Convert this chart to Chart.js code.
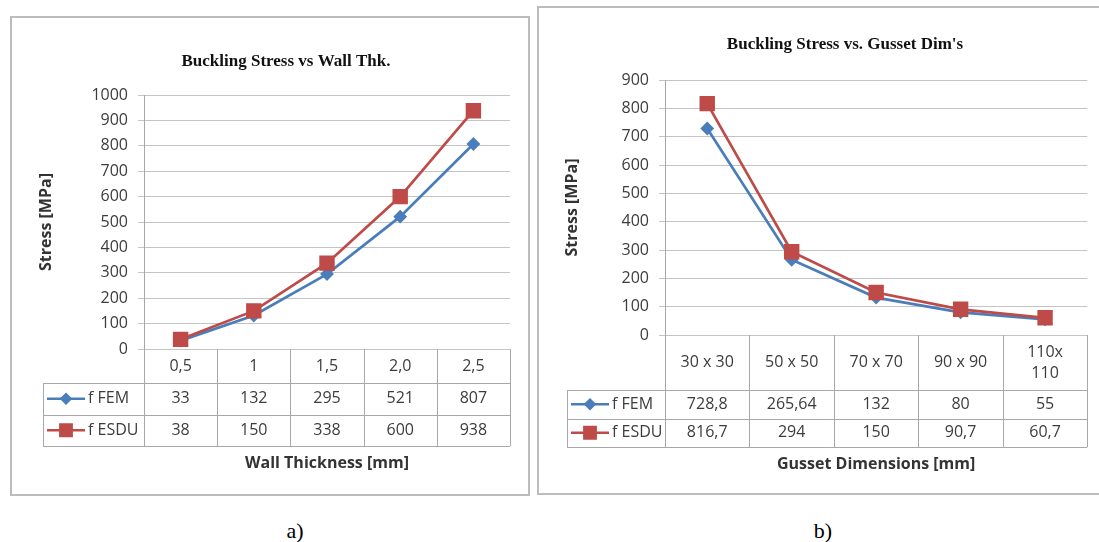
<!DOCTYPE html>
<html>
<head>
<meta charset="utf-8">
<script src="https://cdn.jsdelivr.net/npm/chart.js@4.4.1/dist/chart.umd.min.js"></script>
<style>
  body { margin: 0; background: #fff; width: 1099px; height: 542px; overflow: hidden; position: relative; }
  .box { position: absolute; border: 2px solid #bcbcbc; box-sizing: border-box; }
  canvas { position: absolute; }
  .cap { position: absolute; font: 22px "Liberation Serif", serif; color: #000; transform: translate(-50%, -50%); }
</style>
</head>
<body>
<div class="box" style="left:10px;top:16px;width:520px;height:480px"></div>
<div class="box" style="left:537px;top:6px;width:570px;height:489px"></div>
<canvas id="chartA" width="517" height="477" style="left:11px;top:17px"></canvas>
<canvas id="chartB" width="561" height="486" style="left:538px;top:7px"></canvas>
<div class="cap" style="left:295px;top:531px">a)</div>
<div class="cap" style="left:823px;top:531px">b)</div>
<script>
// a) wall thickness
const wallLabels = ["0,5", "1", "1,5", "2,0", "2,5"];
const wallFEM = [33, 132, 295, 521, 807];
const wallESDU = [38, 150, 338, 600, 938];
const wallTicks = { min: 0, max: 1000, step: 100 };

// b) gusset dimensions
const gussetLabels = ["30 x 30", "50 x 50", "70 x 70", "90 x 90", ["110x", "110"]];
const gussetFEM = [728.8, 265.64, 132, 80, 55];
const gussetESDU = [816.7, 294, 150, 90.7, 60.7];
const gussetTicks = { min: 0, max: 900, step: 100 };

const seriesNames = ["f FEM", "f ESDU"];

const BLUE = "#4a7ebb";
const RED = "#be4b48";
const TEXT = "#3c3c3c";
const LINE = "#a8a8a8";
const SANS = "'Open Sans', 'Noto Sans', sans-serif";

const fmt = (v) => String(v).replace(".", ",");

// draws the Excel-style data table under the plot, plus title and x title
const tablePlugin = {
  id: "dataTable",
  afterDraw(chart, args, opts) {
    const { ctx, chartArea: area, scales: { x } } = chart;
    const n = chart.data.labels.length;
    const colW = (area.right - area.left) / n;
    const top = area.bottom;
    const hdrBottom = top + opts.headerH;
    const sets = chart.data.datasets;
    const bottom = hdrBottom + opts.rowH * sets.length;
    const crisp = (v) => Math.round(v) + 0.5;

    ctx.save();
    ctx.strokeStyle = LINE;
    ctx.lineWidth = 1;
    ctx.beginPath();
    // vertical column lines
    for (let k = 0; k <= n; k++) {
      const xx = crisp(area.left + k * colW);
      ctx.moveTo(xx, top);
      ctx.lineTo(xx, bottom);
    }
    // legend column left edge
    ctx.moveTo(crisp(opts.tableLeft), hdrBottom);
    ctx.lineTo(crisp(opts.tableLeft), bottom);
    // horizontal row lines
    for (let r = 0; r <= sets.length; r++) {
      const yy = crisp(hdrBottom + r * opts.rowH);
      ctx.moveTo(opts.tableLeft, yy);
      ctx.lineTo(area.right, yy);
    }
    ctx.stroke();

    ctx.fillStyle = TEXT;
    ctx.font = "16px " + SANS;
    ctx.textAlign = "center";
    ctx.textBaseline = "middle";
    // header with category labels
    chart.data.labels.forEach((lab, i) => {
      const cx = x.getPixelForValue(i);
      const lines = Array.isArray(lab) ? lab : [lab];
      const mid = top + opts.headerH / 2;
      lines.forEach((t, j) => {
        ctx.fillText(t, cx, mid + (j - (lines.length - 1) / 2) * 21);
      });
    });
    // value rows with legend keys
    sets.forEach((ds, r) => {
      const cy = hdrBottom + r * opts.rowH + opts.rowH / 2;
      ds.data.forEach((v, i) => {
        ctx.fillStyle = TEXT;
        ctx.textAlign = "center";
        ctx.fillText(fmt(v), x.getPixelForValue(i), cy);
      });
      const lx = opts.tableLeft;
      ctx.strokeStyle = ds.borderColor;
      ctx.fillStyle = ds.borderColor;
      ctx.lineWidth = 2.5;
      ctx.beginPath();
      ctx.moveTo(lx + 4, cy);
      ctx.lineTo(lx + 42, cy);
      ctx.stroke();
      Chart.helpers.drawPoint(ctx, {
        pointStyle: ds.pointStyle,
        radius: ds.legendRadius,
        rotation: 0,
        borderWidth: 1
      }, lx + 23, cy);
      ctx.fillStyle = TEXT;
      ctx.textAlign = "left";
      ctx.fillText(ds.label, lx + 45, cy);
    });

    // chart title
    ctx.fillStyle = "#111";
    ctx.textAlign = "center";
    ctx.font = "bold 17px 'Liberation Serif', serif";
    ctx.fillText(opts.title, opts.titleX, opts.titleY);
    // x axis title
    ctx.font = "bold 16px " + SANS;
    ctx.fillStyle = "#333";
    ctx.fillText(opts.xTitle, (area.left + area.right) / 2, bottom + 17);
    ctx.restore();
  }
};

function makeChart(id, labels, fem, esdu, ticks, t) {
  return new Chart(document.getElementById(id), {
    type: "line",
    data: {
      labels: labels,
      datasets: [
        {
          label: seriesNames[0],
          data: fem,
          borderColor: BLUE,
          backgroundColor: BLUE,
          borderWidth: 2.7,
          pointStyle: "rectRot",
          pointRadius: 5,
          legendRadius: 4.5,
          order: 1
        },
        {
          label: seriesNames[1],
          data: esdu,
          borderColor: RED,
          backgroundColor: RED,
          borderWidth: 2.7,
          pointStyle: "rect",
          pointRadius: 9,
          legendRadius: 8,
          order: 0
        }
      ]
    },
    options: {
      responsive: false,
      animation: false,
      devicePixelRatio: 1,
      layout: { padding: t.padding },
      plugins: {
        legend: { display: false },
        tooltip: { enabled: false },
        title: { display: false },
        dataTable: t
      },
      elements: { line: { tension: 0 }, point: { borderWidth: 1 } },
      scales: {
        x: { display: false, offset: true },
        y: {
          min: ticks.min,
          max: ticks.max,
          afterFit: (s) => { s.width = t.axisW; },
          ticks: {
            stepSize: ticks.step,
            padding: 10,
            color: TEXT,
            font: { family: SANS, size: 16 },
            callback: (v) => String(v)
          },
          grid: { color: "#c4c4c4", tickLength: 6, lineWidth: 1 },
          border: { color: LINE },
          title: {
            display: true,
            text: "Stress [MPa]",
            color: "#333",
            padding: 0,
            font: { family: SANS, size: 16, weight: "bold" }
          }
        }
      }
    },
    plugins: [tablePlugin]
  });
}

makeChart("chartA", wallLabels, wallFEM, wallESDU, wallTicks, {
  padding: { top: 78, bottom: 145, right: 18, left: 26 },
  axisW: 107,
  headerH: 34,
  rowH: 31.5,
  tableLeft: 32,
  title: "Buckling Stress vs Wall Thk.",
  titleX: 275,
  titleY: 45,
  xTitle: "Wall Thickness [mm]"
});

makeChart("chartB", gussetLabels, gussetFEM, gussetESDU, gussetTicks, {
  padding: { top: 73, bottom: 158, right: 9, left: 25 },
  axisW: 102,
  headerH: 55,
  rowH: 28.5,
  tableLeft: 29,
  title: "Buckling Stress vs. Gusset Dim's",
  titleX: 307,
  titleY: 38,
  xTitle: "Gusset Dimensions [mm]"
});
</script>
</body>
</html>
